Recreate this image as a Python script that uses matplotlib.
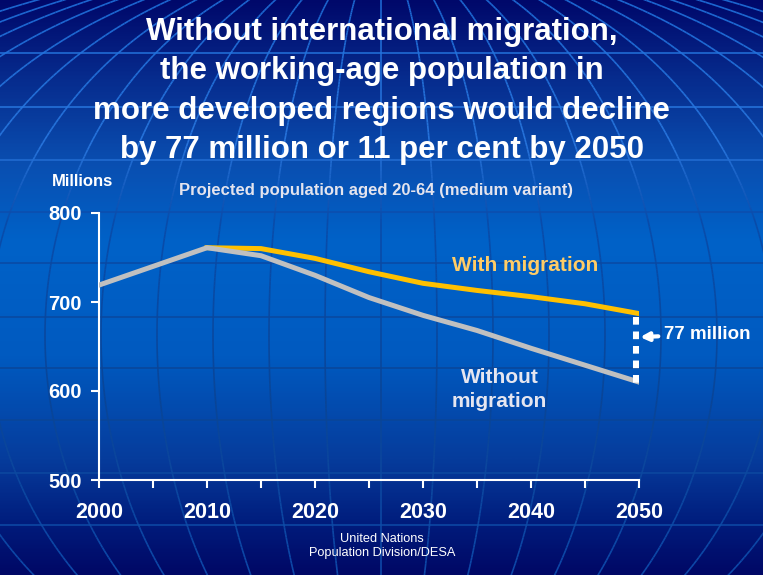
import numpy as np
import matplotlib
matplotlib.use("Agg")
import matplotlib.pyplot as plt
from matplotlib.colors import LinearSegmentedColormap
from matplotlib.collections import LineCollection

plt.rcParams['font.family'] = ['Liberation Sans', 'DejaVu Sans']

years = [2000, 2005, 2010, 2015, 2020, 2025, 2030, 2035, 2040, 2045, 2050]
without_migration = [719, 740, 761, 752, 730, 705, 685, 668, 648, 629, 610]
with_years = [2010, 2015, 2020, 2025, 2030, 2035, 2040, 2045, 2050]
with_migration = [761, 760, 749, 734, 721, 713, 706, 698, 687]

title = ("Without international migration,\nthe working-age population in\n"
         "more developed regions would decline\nby 77 million or 11 per cent by 2050")

fig = plt.figure(figsize=(7.63, 5.75), dpi=100)

# background: dark navy -> bright blue -> dark navy
bg = fig.add_axes([0, 0, 1, 1], zorder=0)
cmap = LinearSegmentedColormap.from_list(
    "bg", [(0.0, "#00086a"), (0.12, "#06288a"), (0.28, "#0a4eb0"), (0.42, "#0062c8"),
           (0.62, "#005ac0"), (0.80, "#063c9c"), (0.92, "#001a7a"), (1.0, "#000866")])
grad = np.linspace(0, 1, 400).reshape(-1, 1)
bg.imshow(grad, aspect="auto", cmap=cmap, extent=[0, 763, 575, 0])

# globe grid, line colour depends on height (light on dark, dark on light)
lcmap = LinearSegmentedColormap.from_list(
    "lines", [(0.0, "#1f70dc"), (0.25, "#2a78e0"), (0.38, "#0a4aa8"),
              (0.7, "#0a4494"), (1.0, "#0f4fb0")])
segs, cols = [], []
t = np.linspace(-np.pi / 2, np.pi / 2, 300)
cx, cy, Rv = 381, 335, 380
for k in range(-13, 14):
    x0 = cx + 56 * k
    xs = cx + (x0 - cx) * np.cos(t)
    ys = cy + Rv * np.sin(t)
    pts = np.column_stack([xs, ys])
    segs += [pts[i:i + 2] for i in range(len(pts) - 1)]
    cols += [lcmap(np.clip(ys[i] / 575, 0, 1)) for i in range(len(pts) - 1)]
for yl in [53, 107, 160, 212, 263, 317, 368, 420, 473, 525]:
    xs = np.linspace(0, 763, 40)
    for i in range(len(xs) - 1):
        segs.append(np.array([[xs[i], yl], [xs[i + 1], yl]]))
        cols.append(lcmap(yl / 575))
bg.add_collection(LineCollection(segs, colors=cols, linewidths=1.2, alpha=0.9))
bg.set_xlim(0, 763)
bg.set_ylim(575, 0)
bg.axis("off")

ax = fig.add_axes([99 / 763, 95 / 575, 540 / 763, 267 / 575], zorder=1)
ax.patch.set_alpha(0)
ax.plot(years, without_migration, color="#c0c0c0", lw=3.6, zorder=3)
ax.plot(with_years, with_migration, color="#ffc000", lw=3.6, zorder=2)

ax.set_xlim(2000, 2050)
ax.set_ylim(500, 800)
ax.set_yticks([500, 600, 700, 800])
ax.set_xticks(years)
ax.set_xticklabels([str(y) if y % 10 == 0 else "" for y in years])
for s in ["top", "right"]:
    ax.spines[s].set_visible(False)
for s in ["left", "bottom"]:
    ax.spines[s].set_color("white")
    ax.spines[s].set_linewidth(1.5)
ax.tick_params(colors="white", width=1.5, length=5.5)
ax.tick_params(axis="x", labelsize=15.5, pad=10)
ax.tick_params(axis="y", labelsize=14.5, pad=7)
for lab in ax.get_xticklabels() + ax.get_yticklabels():
    lab.set_fontweight("bold")

# gap marker at 2050
ax.plot([2049.8, 2049.8], [with_migration[-1] - 4, without_migration[-1] - 8],
        color="white", lw=5.8, linestyle=(0, (0.95, 0.85)), zorder=4)
gap = with_migration[-1] - without_migration[-1]
ax.annotate(f"{gap} million", xy=(2050.1, 660.5), xytext=(2052.3, 664),
            color="white", fontsize=13.5, fontweight="bold", va="center",
            annotation_clip=False,
            arrowprops=dict(arrowstyle="-|>", color="white", lw=3,
                            mutation_scale=12, shrinkA=2, shrinkB=0))

ax.text(2039.5, 741.5, "With migration", color="#ffcc66", fontsize=15,
        fontweight="bold", ha="center", va="center")
ax.text(2037.1, 601.5, "Without\nmigration", color="#e6e6f0", fontsize=15,
        fontweight="bold", ha="center", va="center", linespacing=1.3)

fig.text(0.5, 1 - 91 / 575, title, color="white", fontsize=22.5, fontweight="bold",
         ha="center", va="center", linespacing=1.4)
fig.text(52 / 763, 1 - 182 / 575, "Millions", color="white", fontsize=12,
         fontweight="bold", va="center")
fig.text(376 / 763, 1 - 191 / 575, "Projected population aged 20-64 (medium variant)",
         color="#e4e4ee", fontsize=12, fontweight="bold", ha="center", va="center")
fig.text(382 / 763, 1 - 546 / 575, "United Nations\nPopulation Division/DESA",
         color="white", fontsize=9.2, ha="center", va="center", linespacing=1.2)

fig.savefig("out.png", dpi=100)
